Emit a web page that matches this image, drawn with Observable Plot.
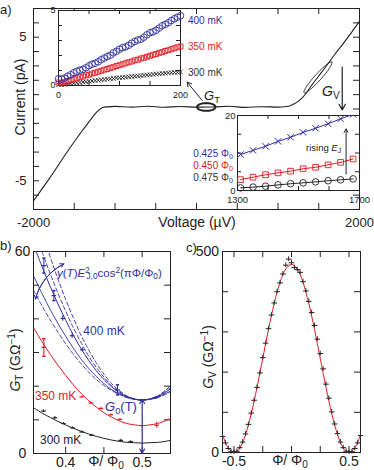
<!DOCTYPE html>
<html><head><meta charset="utf-8">
<script src="https://cdn.jsdelivr.net/npm/d3@7"></script>
<script src="https://cdn.jsdelivr.net/npm/@observablehq/plot@0.6"></script>
<style>
html,body{margin:0;padding:0;background:#fff;}
#fig{position:relative;width:374px;height:470px;overflow:hidden;background:#fff;font-family:'Liberation Sans',Arial,Helvetica,sans-serif;}
#fig svg{position:absolute;overflow:visible;}
</style></head><body><div id="fig"></div>
<script>
const FONT = "'Liberation Sans', Arial, Helvetica, sans-serif";
const INK = "#222", BLUE = "#2f2fa0", RED = "#e31a22", GRAY = "#333";

// ---------- panel a: main I-V curve ----------
const ivVoltage = [-2000,-1800,-1600,-1400,-1300,-1250,-1200,-1150,-1100,-1000,-800,-600,-400,-200,0,200,400,600,800,1000,1100,1150,1200,1250,1300,1350,1400,1500,1600,1700,1800,1900,2000];
const ivCurrent = [-6.4,-4.8,-3.1,-1.5,-0.75,-0.38,-0.08,0.1,0.15,0.18,0.13,0.19,0.12,0.17,0.13,0.14,0.19,0.11,0.16,0.13,0.17,0.23,0.36,0.55,0.8,1.13,1.55,2.3,3.05,3.83,4.55,5.32,6.1];
const mainXTicks = [-2000,-1500,-1000,-500,0,500,1000,1500,2000];
const mainYTicks = [-7,-6,-5,-4,-3,-2,-1,0,1,2,3,4,5,6,7];
const mainXLabels = [-2000, 2000];
const mainYLabels = [-5, 5];

// inset 1 (low-bias I-V at three temperatures)
const ins1V = [0,5,10,15,20,25,30,35,40,45,50,55,60,65,70,75,80,85,90,95,100,105,110,115,120,125,130,135,140,145,150,155,160,165,170,175,180,185,190,195,200];
const ins1I400 = [0.45,0.42,0.5,0.62,0.72,0.85,0.95,1.02,1.08,1.18,1.32,1.42,1.48,1.58,1.72,1.83,1.93,2.02,2.18,2.28,2.42,2.52,2.58,2.68,2.82,2.93,3.03,3.08,3.22,3.38,3.52,3.58,3.68,3.83,3.98,4.08,4.18,4.33,4.45,4.55,4.65];
const ins1I350 = [0.2,0.15,0.22,0.3,0.35,0.42,0.48,0.55,0.6,0.68,0.72,0.8,0.85,0.92,0.98,1.05,1.1,1.18,1.22,1.3,1.35,1.42,1.48,1.55,1.6,1.68,1.72,1.8,1.85,1.92,1.98,2.05,2.1,2.18,2.22,2.3,2.35,2.42,2.48,2.55,2.6];
const ins1I300 = [0.05,0.05,0.08,0.1,0.13,0.15,0.18,0.2,0.23,0.25,0.28,0.3,0.33,0.35,0.38,0.4,0.42,0.45,0.47,0.5,0.52,0.54,0.56,0.58,0.6,0.62,0.64,0.66,0.68,0.7,0.72,0.74,0.76,0.78,0.8,0.82,0.84,0.85,0.87,0.88,0.9];
const ins1XTicks = [0,50,100,150,200];
const ins1YTicks = [0,1,2,3,4,5];

// inset 2 (high-bias I-V at three fluxes)
const ins2V = [1310,1351,1392,1433,1474,1515,1556,1597,1638,1679];
const ins2I425 = [9.6,10.7,11.8,13.1,14.2,15.5,16.6,17.8,19.1,20.3];
const ins2I450 = [2.9,3.55,4.2,4.7,5.15,5.8,6.2,6.85,7.5,8.4];
const ins2I475 = [0.7,0.9,1.15,1.5,1.8,2.05,2.3,2.6,2.85,3.1];
const ins2XTicks = [1300,1400,1500,1600,1700];
const ins2YTicks = [0,5,10,15,20];

// ---------- panel b: G_T vs flux ----------
const bPhi = [0.358,0.37,0.38,0.39,0.40,0.41,0.42,0.43,0.44,0.45,0.46,0.47,0.48,0.49,0.50,0.51,0.52,0.53,0.537];
const bFit300 = [13.6,11.9,10.7,9.5,8.5,7.5,6.6,5.8,5.1,4.5,4.0,3.6,3.3,3.2,3.1,3.2,3.3,3.6,3.9];
const bFit350 = [37.4,32.9,29.4,26.2,23.2,20.4,17.9,15.7,13.8,12.1,10.8,9.7,8.9,8.5,8.3,8.5,8.9,9.7,10.4];
const bFit400 = [62.1,55.0,49.5,44.4,39.6,35.2,31.2,27.7,24.6,22.0,19.8,18.1,16.9,16.2,15.9,16.2,16.9,18.1,19.2];
const bFit400b = [52.8,47.1,42.7,38.6,34.8,31.3,28.1,25.3,22.9,20.8,19.0,17.7,16.7,16.1,15.9,16.1,16.7,17.7,18.6];
const bUp1 = [67.3,59.4,53.3,47.6,42.3,37.4,33.0,29.0,25.6,22.7,20.2,18.4,17.0,16.2,15.9,16.2,17.0,18.4,19.6];
const bUp2 = [74.2,65.3,58.3,51.8,45.8,40.3,35.2,30.8,26.9,23.6,20.8,18.7,17.1,16.2,15.9,16.2,17.1,18.7,20.1];
const bLow = [48.5,43.5,39.6,36.0,32.6,29.5,26.7,24.2,22.0,20.2,18.7,17.5,16.6,16.1,15.9,16.1,16.6,17.5,18.3];
const b300Phi = [0.371,0.386,0.397,0.409,0.421,0.434,0.472,0.485];
const b300G = [12.6,10.6,8.9,7.6,6.4,5.4,3.9,3.5];
const b300Err = [0.4,0.4,0.3,0.3,0.3,0.3,0.3,0.3];
const b350Phi = [0.3715,0.421,0.433,0.446,0.459,0.471,0.519];
const b350G = [31.5,16.8,15.0,13.4,11.5,10.1,8.4];
const b350Err = [2.6,0.3,0.3,0.3,0.3,0.3,0.9];
const b400Phi = [0.3715,0.3846,0.3963,0.4085,0.4218,0.4677,0.517];
const b400G = [55.8,46.9,40.1,35.0,30.8,18.9,16.5];
const b400Err = [2.2,1.5,0.8,0.8,0.6,1.5,0.5];
const bXTicks = [0.4,0.45,0.5];
const bYTicks = [0,10,20,30,40,50,60];
const bXLabels = [0.4,0.5];
const bYLabels = [0,60];

// ---------- panel c: G_V vs flux ----------
const cPhi = [-0.6,-0.575,-0.55,-0.525,-0.5,-0.475,-0.45,-0.425,-0.4,-0.375,-0.35,-0.325,-0.3,-0.275,-0.25,-0.225,-0.2,-0.175,-0.15,-0.125,-0.1,-0.075,-0.05,-0.025,0,0.025,0.05,0.075,0.1,0.125,0.15,0.175,0.2,0.225,0.25,0.275,0.3,0.325,0.35,0.375,0.4,0.425,0.45,0.475,0.5,0.525,0.55,0.575,0.6];
const cG = [40,24,10,2,1,3,12,26,46,70,98,130,162,198,236,272,308,342,372,400,422,444,466,481,472,460,455,448,425,402,376,348,316,282,246,208,170,135,101,71,47,26,12,3,1,2,10,24,42];
const cFitPhi = [-0.6,-0.55,-0.5,-0.45,-0.4,-0.35,-0.3,-0.25,-0.2,-0.15,-0.1,-0.05,0,0.05,0.1,0.15,0.2,0.25,0.3,0.35,0.4,0.45,0.5,0.55,0.6];
const cFitG = [44.7,11.5,0,11.5,44.7,96.5,161.7,234,306.3,371.5,423.3,456.5,468,456.5,423.3,371.5,306.3,234,161.7,96.5,44.7,11.5,0,11.5,44.7];
const cXTicks = [-0.5,-0.25,0,0.25,0.5];
const cYTicks = [0,100,200,300,400,500];
const cXLabels = [-0.5,0.5];
const cYLabels = [0,500];
const C_ERR = 6;

// ---------- annotations (data coordinates) ----------
const gtEllipse = {cx: 120, cy: 0.14, rx: 113, ry: 0.27};
const gvEllipse = {cx: 1490, cy: 2.2, ax: 170, ay: 1.07, bx: 30, by: -0.155};
const gtArrow = {x1: 70, y1: 0.59, x2: -114, y2: 1.87};
const gvArrow = {x1: 1788, y1: 2.92, x2: 1788, y2: -0.06};
const risingArrow = {x1: 1656, y1: 4.4, x2: 1656, y2: 16.4};
const g0Arrow = {x: 0.5, mid: 8, top: 16.1, bottom: 0.1};
const gammaArrow = {x1: 0.3606, y1: 45.9, x2: 0.3976, y2: 56.3};

// ---------- helpers ----------
const fig = document.getElementById("fig");
const fmt = d => String(d);
const zip = (xs, ys, extra = {}) => xs.map((x, i) => {
  const o = {x, y: ys[i]};
  for (const k in extra) o[k] = extra[k][i];
  return o;
});
const dash = {draw(ctx, size) { const r = Math.sqrt(size / Math.PI); ctx.moveTo(-r, 0); ctx.lineTo(r, 0); }};

function frameTicks(xDom, yDom, xs, ys, wPx, hPx, len) {
  const lx = (xDom[1] - xDom[0]) * len / wPx, ly = (yDom[1] - yDom[0]) * len / hPx;
  const o = {stroke: INK, strokeWidth: 1};
  return [
    Plot.ruleX(xs, {x: d => d, y1: yDom[0], y2: yDom[0] + ly, ...o}),
    Plot.ruleX(xs, {x: d => d, y1: yDom[1], y2: yDom[1] - ly, ...o}),
    Plot.ruleY(ys, {y: d => d, x1: xDom[0], x2: xDom[0] + lx, ...o}),
    Plot.ruleY(ys, {y: d => d, x1: xDom[1], x2: xDom[1] - lx, ...o})
  ];
}
function place(svg, left, top) {
  svg.style.position = "absolute";
  svg.style.left = left + "px";
  svg.style.top = top + "px";
  fig.appendChild(svg);
}
const baseStyle = size => ({fontFamily: FONT, fontSize: size + "px", color: INK, background: "transparent", overflow: "visible"});

// ---------- build panel a ----------
const ivData = zip(ivVoltage, ivCurrent);
const gtPts = d3.range(0, 61).map(k => { const t = k / 60 * 2 * Math.PI; return {x: gtEllipse.cx + gtEllipse.rx * Math.cos(t), y: gtEllipse.cy + gtEllipse.ry * Math.sin(t)}; });
const gvPts = d3.range(0, 61).map(k => { const t = k / 60 * 2 * Math.PI; const e = gvEllipse;
  return {x: e.cx + e.ax * Math.cos(t) + e.bx * Math.sin(t), y: e.cy + e.ay * Math.cos(t) + e.by * Math.sin(t)}; });

const mainPlot = Plot.plot({
  width: 374, height: 230, marginLeft: 33, marginRight: 15, marginTop: 8, marginBottom: 21,
  style: baseStyle(13),
  x: {domain: [-2000, 2000], ticks: mainXLabels, tickSize: 0, tickPadding: 8, tickFormat: fmt, label: null},
  y: {domain: [-7, 7], ticks: mainYLabels, tickSize: 0, tickPadding: 7, tickFormat: fmt, label: null},
  marks: [
    Plot.frame({stroke: INK}),
    ...frameTicks([-2000, 2000], [-7, 7], mainXTicks, mainYTicks, 326, 201, 6),
    Plot.line(ivData, {x: "x", y: "y", curve: "monotone-x", stroke: INK, strokeWidth: 1.1}),
    Plot.line(gtPts, {x: "x", y: "y", stroke: INK, strokeWidth: 2}),
    Plot.line(gvPts, {x: "x", y: "y", stroke: INK, strokeWidth: 0.9}),
    Plot.arrow([gtArrow], {x1: "x1", y1: "y1", x2: "x2", y2: "y2", stroke: INK, strokeWidth: 1, headLength: 7}),
    Plot.arrow([gvArrow], {x1: "x1", y1: "y1", x2: "x2", y2: "y2", stroke: INK, strokeWidth: 1.2, headLength: 8})
  ]
});
place(mainPlot, 0, 0);

const inset1 = Plot.plot({
  width: 150, height: 100, marginLeft: 20, marginRight: 8, marginTop: 10, marginBottom: 15,
  style: baseStyle(9),
  x: {domain: [0, 200], ticks: [0, 200], tickSize: 0, tickPadding: 6, tickFormat: fmt, label: null},
  y: {domain: [0, 5], ticks: [0, 5], tickSize: 0, tickPadding: 3, tickFormat: fmt, label: null},
  marks: [
    Plot.frame({fill: "white", stroke: INK}),
    ...frameTicks([0, 200], [0, 5], ins1XTicks, ins1YTicks, 122, 75, 4),
    Plot.dot(zip(ins1V, ins1I300), {x: "x", y: "y", symbol: "times", r: 2.2, stroke: INK, strokeWidth: 0.9}),
    Plot.dot(zip(ins1V, ins1I350), {x: "x", y: "y", symbol: "square", r: 2.8, stroke: RED, fill: "none", strokeWidth: 0.9}),
    Plot.dot(zip(ins1V, ins1I400), {x: "x", y: "y", symbol: "circle", r: 3.3, stroke: BLUE, fill: "none", strokeWidth: 0.9})
  ]
});
place(inset1, 38, 0);

const inset2 = Plot.plot({
  width: 159, height: 100, marginLeft: 22, marginRight: 15, marginTop: 7, marginBottom: 18,
  style: baseStyle(9.5),
  x: {domain: [1300, 1700], ticks: [1300, 1700], tickSize: 0, tickPadding: 6, tickFormat: fmt, label: null},
  y: {domain: [0, 20], ticks: [0, 20], tickSize: 0, tickPadding: 2, tickFormat: fmt, label: null},
  marks: [
    Plot.frame({fill: "white", stroke: INK}),
    ...frameTicks([1300, 1700], [0, 20], ins2XTicks, ins2YTicks, 122, 75, 4),
    Plot.line(zip(ins2V, ins2I475), {x: "x", y: "y", stroke: INK, strokeWidth: 1}),
    Plot.dot(zip(ins2V, ins2I475), {x: "x", y: "y", symbol: "circle", r: 3.3, stroke: INK, fill: "none", strokeWidth: 0.9}),
    Plot.line(zip(ins2V, ins2I450), {x: "x", y: "y", stroke: RED, strokeWidth: 1}),
    Plot.dot(zip(ins2V, ins2I450), {x: "x", y: "y", symbol: "square", r: 3.2, stroke: RED, fill: "none", strokeWidth: 0.9}),
    Plot.line(zip(ins2V, ins2I425), {x: "x", y: "y", stroke: BLUE, strokeWidth: 1, clip: true}),
    Plot.dot(zip(ins2V, ins2I425), {x: "x", y: "y", symbol: "times", r: 3, stroke: BLUE, strokeWidth: 1, clip: true}),
    Plot.arrow([risingArrow], {x1: "x1", y1: "y1", x2: "x2", y2: "y2", stroke: INK, strokeWidth: 1, headLength: 6})
  ]
});
place(inset2, 215, 108);

// ---------- build panel b ----------
const curve = arr => bPhi.map((p, i) => ({x: p, y: arr[i]}));
const bPts = (xs, ys, es) => zip(xs, ys, {e: es});
function errMarks(data, color, r) {
  return [
    Plot.ruleX(data, {x: "x", y1: d => d.y - d.e, y2: d => d.y + d.e, stroke: color, strokeWidth: 1}),
    Plot.dot(data.filter(d => d.e > 1), {x: "x", y: d => d.y - d.e, symbol: dash, r: 1.6, stroke: color, fill: "none"}),
    Plot.dot(data.filter(d => d.e > 1), {x: "x", y: d => d.y + d.e, symbol: dash, r: 1.6, stroke: color, fill: "none"}),
    Plot.dot(data, {x: "x", y: "y", symbol: dash, r: r, stroke: color, fill: "none", strokeWidth: 1.2})
  ];
}
const panelB = Plot.plot({
  width: 187, height: 232, marginLeft: 33, marginRight: 17, marginTop: 13, marginBottom: 17,
  style: baseStyle(14),
  x: {domain: [0.358, 0.537], ticks: bXLabels, tickSize: 0, tickPadding: 4, tickFormat: fmt, label: null},
  y: {domain: [0, 60], axis: null},
  marks: [
    Plot.frame({stroke: INK}),
    ...frameTicks([0.358, 0.537], [0, 60], bXTicks, bYTicks, 137, 202, 6),
    Plot.text(bYLabels, {y: d => d, text: d => String(d), frameAnchor: "left", dx: -11, textAnchor: "middle", fontSize: 14, fill: INK}),
    Plot.line(curve(bFit300), {x: "x", y: "y", curve: "catmull-rom", stroke: INK, strokeWidth: 1}),
    Plot.line(curve(bFit350), {x: "x", y: "y", curve: "catmull-rom", stroke: RED, strokeWidth: 1}),
    Plot.line(curve(bLow), {x: "x", y: "y", curve: "catmull-rom", stroke: BLUE, strokeWidth: 0.9, strokeDasharray: "4,2.5", clip: true}),
    Plot.line(curve(bFit400b), {x: "x", y: "y", curve: "catmull-rom", stroke: BLUE, strokeWidth: 0.9, clip: true}),
    Plot.line(curve(bFit400), {x: "x", y: "y", curve: "catmull-rom", stroke: BLUE, strokeWidth: 1, clip: true}),
    Plot.line(curve(bUp1), {x: "x", y: "y", curve: "catmull-rom", stroke: BLUE, strokeWidth: 0.9, strokeDasharray: "4,2.5", clip: true}),
    Plot.line(curve(bUp2), {x: "x", y: "y", curve: "catmull-rom", stroke: BLUE, strokeWidth: 0.9, strokeDasharray: "4,2.5", clip: true}),
    ...errMarks(bPts(b300Phi, b300G, b300Err), INK, 2.3),
    ...errMarks(bPts(b350Phi, b350G, b350Err), RED, 2.3),
    ...errMarks(bPts(b400Phi, b400G, b400Err), BLUE, 2.3),
    Plot.arrow([g0Arrow], {x1: "x", y1: "mid", x2: "x", y2: "top", stroke: BLUE, strokeWidth: 1.2, headLength: 6}),
    Plot.arrow([g0Arrow], {x1: "x", y1: "mid", x2: "x", y2: "bottom", stroke: BLUE, strokeWidth: 1.2, headLength: 6}),
    Plot.arrow([gammaArrow], {x1: "x1", y1: "y1", x2: "x2", y2: "y2", bend: 25, stroke: BLUE, strokeWidth: 1, headLength: 6}),
    Plot.arrow([gammaArrow], {x1: "x2", y1: "y2", x2: "x1", y2: "y1", bend: -25, stroke: BLUE, strokeWidth: 1, headLength: 6})
  ]
});
place(panelB, 0, 238);

// ---------- build panel c ----------
const cData = zip(cPhi, cG);
const panelC = Plot.plot({
  width: 187, height: 232, marginLeft: 35, marginRight: 14, marginTop: 13, marginBottom: 18,
  style: baseStyle(14),
  x: {domain: [-0.6, 0.6], ticks: cXLabels, tickSize: 0, tickPadding: 4, tickFormat: fmt, label: null},
  y: {domain: [0, 500], ticks: cYLabels, tickSize: 0, tickPadding: 3.5, tickFormat: fmt, label: null},
  marks: [
    Plot.frame({stroke: INK}),
    ...frameTicks([-0.6, 0.6], [0, 500], cXTicks, cYTicks, 138, 201, 6),
    Plot.line(zip(cFitPhi, cFitG), {x: "x", y: "y", curve: "catmull-rom", stroke: RED, strokeWidth: 1}),
    Plot.ruleX(cData, {x: "x", y1: d => d.y - C_ERR, y2: d => d.y + C_ERR, stroke: GRAY, strokeWidth: 1}),
    Plot.dot(cData, {x: "x", y: "y", symbol: dash, r: 2.8, stroke: INK, fill: "none", strokeWidth: 1})
  ]
});
place(panelC, 187, 238);

// ---------- HTML text labels ----------
const SUB = s => `<span style="font-size:0.72em;position:relative;top:0.28em">${s}</span>`;
const SUP = s => `<span style="font-size:0.72em;position:relative;top:-0.45em">${s}</span>`;
const SUBBACK = s => `<span style="font-size:0.72em;position:relative;top:0.3em;margin-left:-0.4em">${s}</span>`;
function addLabel(html, x, y, {size = 13, color = INK, anchor = "middle", rotate = 0} = {}) {
  const d = document.createElement("div");
  d.innerHTML = html;
  Object.assign(d.style, {position: "absolute", left: x + "px", top: y + "px", fontSize: size + "px", color,
    lineHeight: "1", whiteSpace: "nowrap", fontFamily: FONT});
  const tx = anchor === "start" ? "0" : anchor === "end" ? "-100%" : "-50%";
  d.style.transform = `translate(${tx},-50%)` + (rotate ? ` rotate(${rotate}deg)` : "");
  fig.appendChild(d);
}
addLabel("a)", 0, 9, {size: 13, anchor: "start"});
addLabel("b)", 0, 245, {size: 13, anchor: "start"});
addLabel("c)", 186, 247, {size: 13, anchor: "start"});
addLabel("Current (pA)", 19.5, 97, {size: 14, rotate: -90});
addLabel("Voltage (µV)", 197, 222, {size: 14});
addLabel("400 mK", 188, 21, {size: 10, color: BLUE, anchor: "start"});
addLabel("350 mK", 188, 47, {size: 10, color: RED, anchor: "start"});
addLabel("300 mK", 188, 73, {size: 10, color: GRAY, anchor: "start"});
addLabel(`<i>G</i>${SUB("T")}`, 204, 96, {size: 13, anchor: "start"});
addLabel(`<i>G</i>${SUB("V")}`, 322, 91, {size: 14, anchor: "start"});
addLabel(`0.425 Φ${SUB("0")}`, 233, 153.5, {size: 10, color: BLUE, anchor: "end"});
addLabel(`0.450 Φ${SUB("0")}`, 233, 165.5, {size: 10, color: RED, anchor: "end"});
addLabel(`0.475 Φ${SUB("0")}`, 233, 178, {size: 10, color: GRAY, anchor: "end"});
addLabel(`rising <i>E</i>${SUB("J")}`, 306, 148, {size: 9.5, anchor: "start"});
addLabel(`<i>G</i>${SUB("T")} (GΩ${SUP("−1")})`, 15, 360, {size: 14, rotate: -90});
addLabel(`Φ/ Φ${SUB("0")}`, 106, 461, {size: 14});
addLabel(`<i>γ</i>(<i>T</i>)<i>E</i>${SUP("2")}${SUBBACK("J,0")}cos${SUP("2")}(πΦ/Φ${SUB("0")})`, 57, 274, {size: 11.5, color: BLUE, anchor: "start"});
addLabel("400 mK", 104, 330.5, {size: 12, color: BLUE});
addLabel("350 mK", 35, 396, {size: 12, color: RED, anchor: "start"});
addLabel("300 mK", 40, 440, {size: 12, color: INK, anchor: "start"});
addLabel(`<i>G</i>${SUB("0")}(T)`, 105, 407, {size: 13, color: BLUE, anchor: "start"});
addLabel(`<i>G</i>${SUB("V")} (GΩ${SUP("−1")})`, 207.5, 357, {size: 14, rotate: -90});
addLabel(`Φ/ Φ${SUB("0")}`, 290, 460, {size: 14});
</script></body></html>
